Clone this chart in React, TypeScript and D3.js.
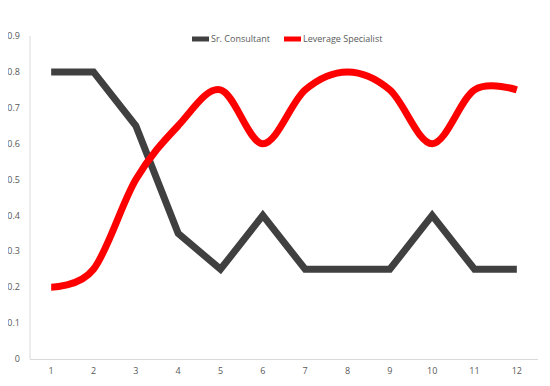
import React, { useEffect, useRef } from 'react';
import * as d3 from 'd3';

const months = ['1', '2', '3', '4', '5', '6', '7', '8', '9', '10', '11', '12'];
const srConsultant = [0.8, 0.8, 0.65, 0.35, 0.25, 0.4, 0.25, 0.25, 0.25, 0.4, 0.25, 0.25];
const leverageSpecialist = [0.2, 0.25, 0.5, 0.65, 0.75, 0.6, 0.75, 0.8, 0.75, 0.6, 0.75, 0.75];
const yTicks = [0, 0.1, 0.2, 0.3, 0.4, 0.5, 0.6, 0.7, 0.8, 0.9];

const W = 550, H = 386;
const FONT = "'Open Sans', 'Liberation Sans', sans-serif";

const App = () => {
  const ref = useRef<SVGSVGElement>(null);

  useEffect(() => {
    const svg = d3.select(ref.current);
    svg.selectAll('*').remove();

    const left = 30, right = 538, top = 36, bottom = 359;

    const x = d3.scaleBand().domain(months).range([left, right]);
    const y = d3.scaleLinear().domain([0, 0.9]).range([bottom, top]);
    const cx = (i: number) => (x(months[i]) as number) + x.bandwidth() / 2;

    // axes lines
    svg.append('line')
      .attr('x1', left).attr('x2', left).attr('y1', top).attr('y2', bottom)
      .attr('stroke', '#d9d9d9').attr('stroke-width', 1);
    svg.append('line')
      .attr('x1', left).attr('x2', right).attr('y1', bottom + 0.5).attr('y2', bottom + 0.5)
      .attr('stroke', '#d9d9d9').attr('stroke-width', 1);

    // y tick labels
    svg.append('g').selectAll('text')
      .data(yTicks)
      .enter()
      .append('text')
      .attr('x', 20)
      .attr('y', d => y(d))
      .attr('dy', '0.35em')
      .attr('text-anchor', 'end')
      .style('font-family', FONT)
      .style('font-size', '9px')
      .style('fill', '#595959')
      .text(d => d === 0 ? '0' : d.toFixed(1));

    // x tick labels
    svg.append('g').selectAll('text')
      .data(months)
      .enter()
      .append('text')
      .attr('x', (d, i) => cx(i))
      .attr('y', 374)
      .attr('text-anchor', 'middle')
      .style('font-family', FONT)
      .style('font-size', '9px')
      .style('fill', '#595959')
      .text(d => d);

    const straight = d3.line<number>()
      .x((d, i) => cx(i))
      .y(d => y(d));
    const smooth = d3.line<number>()
      .x((d, i) => cx(i))
      .y(d => y(d))
      .curve(d3.curveCardinal.tension(0));

    svg.append('path')
      .attr('d', straight(srConsultant))
      .attr('fill', 'none')
      .attr('stroke', '#404040')
      .attr('stroke-width', 7)
      .attr('stroke-linejoin', 'miter');

    svg.append('path')
      .attr('d', smooth(leverageSpecialist))
      .attr('fill', 'none')
      .attr('stroke', '#ff0000')
      .attr('stroke-width', 7)
      .attr('stroke-linejoin', 'round');

    // legend
    const legend = [
      { name: 'Sr. Consultant', color: '#404040', x: 192 },
      { name: 'Leverage Specialist', color: '#ff0000', x: 284 },
    ];
    legend.forEach(l => {
      svg.append('line')
        .attr('x1', l.x).attr('x2', l.x + 17).attr('y1', 39).attr('y2', 39)
        .attr('stroke', l.color).attr('stroke-width', 5);
      svg.append('text')
        .attr('x', l.x + 19)
        .attr('y', 39)
        .attr('dy', '0.35em')
        .style('font-family', FONT)
        .style('font-size', '9px')
        .style('fill', '#595959')
        .text(l.name);
    });
  }, []);

  return (
    <div style={{ margin: -8 }}>
      <svg ref={ref} width={W} height={H} style={{ display: 'block', background: '#fff' }}></svg>
    </div>
  );
};

export default App;
